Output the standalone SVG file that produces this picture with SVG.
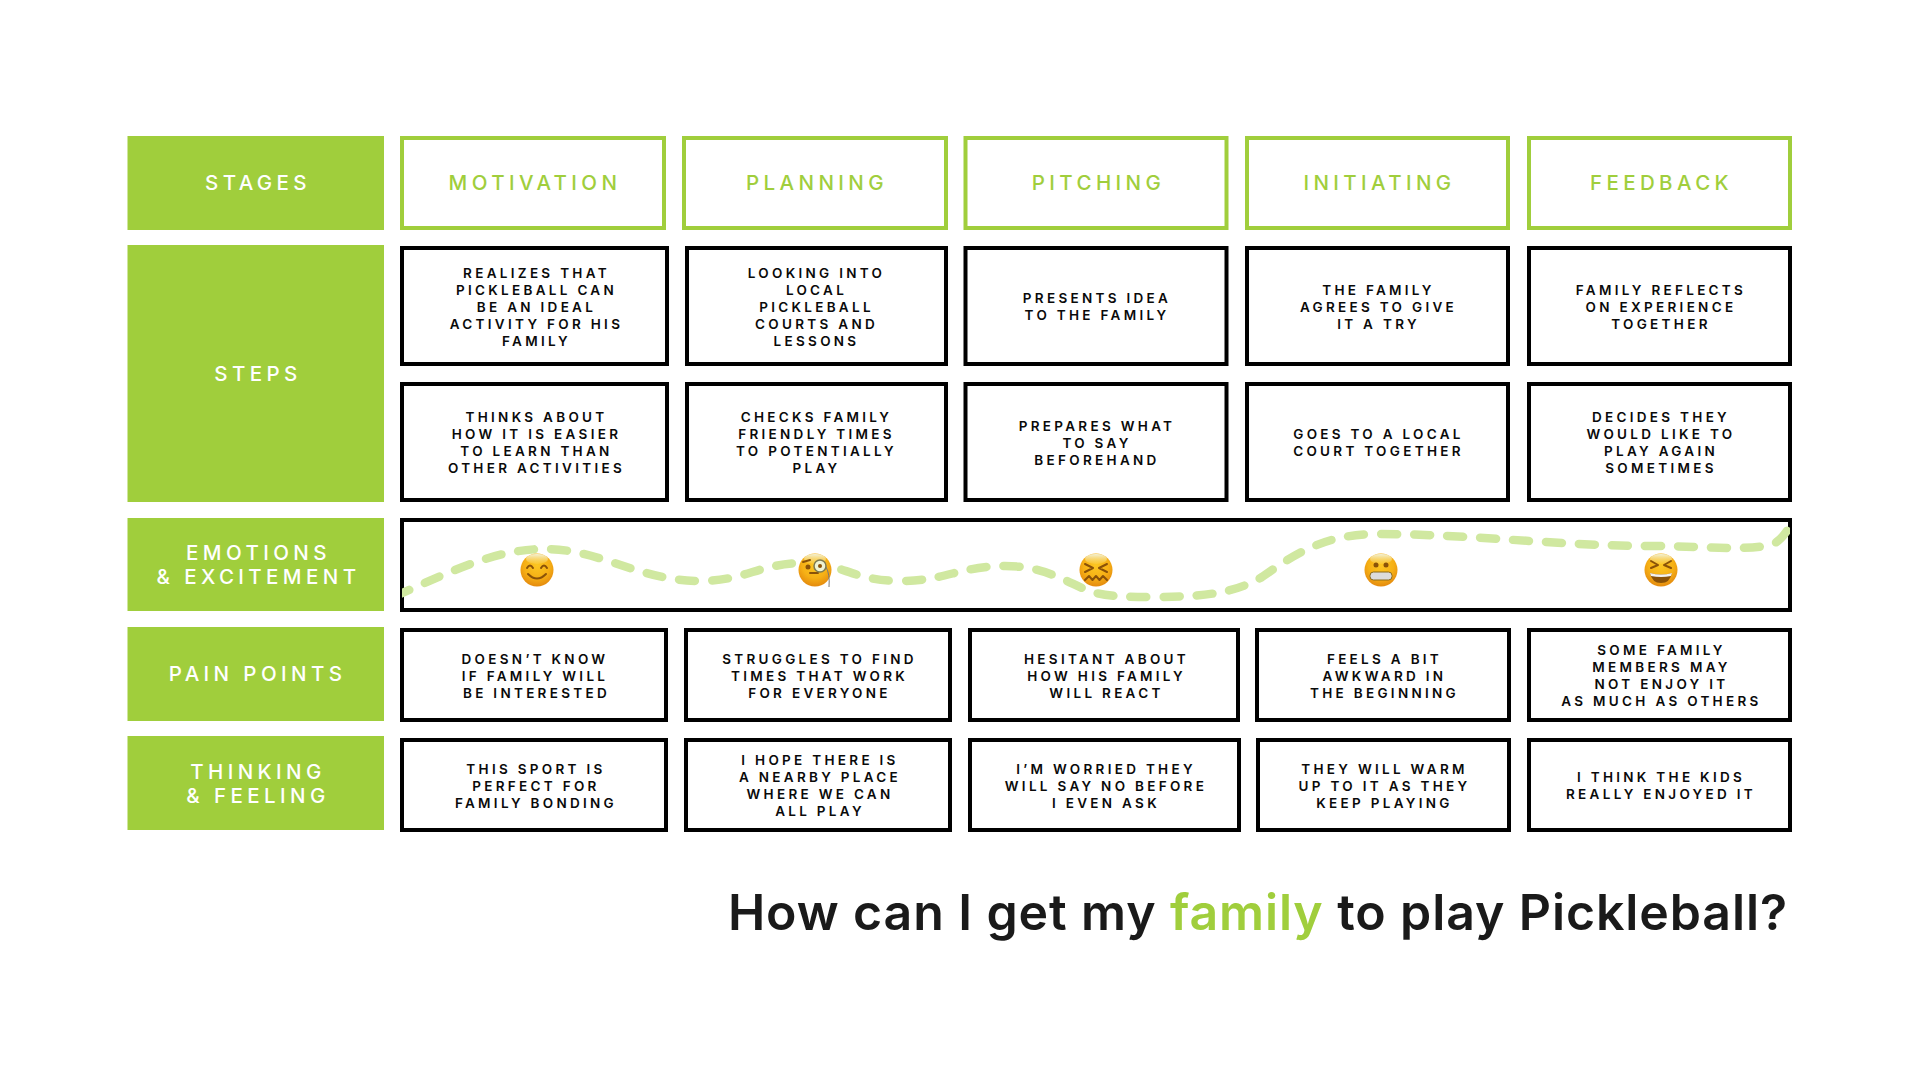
<svg xmlns="http://www.w3.org/2000/svg" width="1920" height="1080" viewBox="0 0 1920 1080">
<style>
text{font-family:Inter,"Liberation Sans",sans-serif;text-anchor:middle}
.lab{fill:#a0ce3c}
.hd{font-size:20.5px;font-weight:500;letter-spacing:4.4px}
.ht{fill:#fff}
.hg{fill:#a0ce3c}
.box{fill:#fff;stroke:#000;stroke-width:4}
.gbox{fill:#fff;stroke:#a0ce3c;stroke-width:4}
.t{font-size:13.5px;font-weight:600;letter-spacing:3.3px;fill:#0a0a0a}
.title{font-size:50px;font-weight:600;fill:#1a1a1a;text-anchor:end;letter-spacing:.9px}
.curve{fill:none;stroke:#d0e8a0;stroke-width:8.5;stroke-linecap:round;stroke-dasharray:16 17}
.fd{fill:#8a5208}
.fl{fill:none;stroke:#8a5208;stroke-width:2;stroke-linecap:round;stroke-linejoin:round}
</style>
<defs>
<radialGradient id="face" cx=".5" cy=".36" r=".64"><stop offset="0" stop-color="#fcc622"/><stop offset=".6" stop-color="#f6b015"/><stop offset="1" stop-color="#e48a0e"/></radialGradient>
<linearGradient id="shine" x1="0" y1="0" x2="0" y2="1"><stop offset="0" stop-color="#f2f2da"/><stop offset="1" stop-color="#fde27a" stop-opacity=".2"/></linearGradient>
<clipPath id="inner"><rect x="402" y="520" width="1388" height="90"/></clipPath>
<g id="fc"><circle r="16.5" fill="url(#face)"/><ellipse cy="-11" rx="11" ry="5" fill="url(#shine)"/></g>
</defs>

<g id="stages-label"><rect x="127.500" y="136" width="256.500" height="94" class="lab"/><text x="258" y="190" class="hd ht">STAGES</text></g>
<g id="stage-motivation"><rect x="402" y="138" width="262" height="90" class="gbox"/><text x="535" y="190" class="hd hg">MOTIVATION</text></g>
<g id="stage-planning"><rect x="684" y="138" width="262" height="90" class="gbox"/><text x="817" y="190" class="hd hg">PLANNING</text></g>
<g id="stage-pitching"><rect x="965.500" y="138" width="261" height="90" class="gbox"/><text x="1098.500" y="190" class="hd hg">PITCHING</text></g>
<g id="stage-initiating"><rect x="1247" y="138" width="261" height="90" class="gbox"/><text x="1379.500" y="190" class="hd hg">INITIATING</text></g>
<g id="stage-feedback"><rect x="1529" y="138" width="261" height="90" class="gbox"/><text x="1661.500" y="190" class="hd hg">FEEDBACK</text></g>

<g id="steps-label"><rect x="127.500" y="245" width="256.500" height="257" class="lab"/><text x="258" y="381" class="hd ht">STEPS</text></g>
<g id="step-1-1"><rect x="402" y="248" width="265" height="116" class="box"/><text class="t"><tspan x="536.500" y="277.500">REALIZES THAT</tspan><tspan x="536.500" y="294.500">PICKLEBALL CAN</tspan><tspan x="536.500" y="311.500">BE AN IDEAL</tspan><tspan x="536.500" y="328.500">ACTIVITY FOR HIS</tspan><tspan x="536.500" y="345.500">FAMILY</tspan></text></g>
<g id="step-1-2"><rect x="687" y="248" width="259" height="116" class="box"/><text class="t"><tspan x="816.500" y="277.500">LOOKING INTO</tspan><tspan x="816.500" y="294.500">LOCAL</tspan><tspan x="816.500" y="311.500">PICKLEBALL</tspan><tspan x="816.500" y="328.500">COURTS AND</tspan><tspan x="816.500" y="345.500">LESSONS</tspan></text></g>
<g id="step-1-3"><rect x="965.500" y="248" width="261" height="116" class="box"/><text class="t"><tspan x="1097" y="303">PRESENTS IDEA</tspan><tspan x="1097" y="320">TO THE FAMILY</tspan></text></g>
<g id="step-1-4"><rect x="1247" y="248" width="261" height="116" class="box"/><text class="t"><tspan x="1378.500" y="294.500">THE FAMILY</tspan><tspan x="1378.500" y="311.500">AGREES TO GIVE</tspan><tspan x="1378.500" y="328.500">IT A TRY</tspan></text></g>
<g id="step-1-5"><rect x="1529" y="248" width="261" height="116" class="box"/><text class="t"><tspan x="1661" y="294.500">FAMILY REFLECTS</tspan><tspan x="1661" y="311.500">ON EXPERIENCE</tspan><tspan x="1661" y="328.500">TOGETHER</tspan></text></g>

<g id="step-2-1"><rect x="402" y="384" width="265" height="116" class="box"/><text class="t"><tspan x="536.500" y="422">THINKS ABOUT</tspan><tspan x="536.500" y="439">HOW IT IS EASIER</tspan><tspan x="536.500" y="456">TO LEARN THAN</tspan><tspan x="536.500" y="473">OTHER ACTIVITIES</tspan></text></g>
<g id="step-2-2"><rect x="687" y="384" width="259" height="116" class="box"/><text class="t"><tspan x="816.500" y="422">CHECKS FAMILY</tspan><tspan x="816.500" y="439">FRIENDLY TIMES</tspan><tspan x="816.500" y="456">TO POTENTIALLY</tspan><tspan x="816.500" y="473">PLAY</tspan></text></g>
<g id="step-2-3"><rect x="965.500" y="384" width="261" height="116" class="box"/><text class="t"><tspan x="1097" y="431">PREPARES WHAT</tspan><tspan x="1097" y="448">TO SAY</tspan><tspan x="1097" y="465">BEFOREHAND</tspan></text></g>
<g id="step-2-4"><rect x="1247" y="384" width="261" height="116" class="box"/><text class="t"><tspan x="1378.500" y="439">GOES TO A LOCAL</tspan><tspan x="1378.500" y="456">COURT TOGETHER</tspan></text></g>
<g id="step-2-5"><rect x="1529" y="384" width="261" height="116" class="box"/><text class="t"><tspan x="1661" y="422">DECIDES THEY</tspan><tspan x="1661" y="439">WOULD LIKE TO</tspan><tspan x="1661" y="456">PLAY AGAIN</tspan><tspan x="1661" y="473">SOMETIMES</tspan></text></g>

<g id="emotions-label"><rect x="127.500" y="518" width="256.500" height="93" class="lab"/><text class="hd ht"><tspan x="258.500" y="559.500">EMOTIONS</tspan><tspan x="258.500" y="583.500">&amp; EXCITEMENT</tspan></text></g>
<g id="emotions-track"><rect x="402" y="520" width="1388" height="90" class="box"/></g>
<g id="connectors"><path class="curve" clip-path="url(#inner)" stroke-dashoffset="6" d="M400 594C450 572 495 549 545 549C600 549 640 581 700 581C745 581 760 563 805 563C840 563 855 581 900 581C945 581 960 566 1005 566C1040 566 1060 578 1082 588C1098 595 1110 597 1150 597C1205 597 1235 593 1262 577C1290 558 1320 534 1378 534C1470 534 1560 546 1650 546C1700 546 1745 551 1770 545C1778 543 1784 536 1790 526"/></g>

<g id="emoji-smile" transform="translate(537 570)"><use href="#fc"/><path class="fl" d="M-10 -2Q-7 -7 -4 -2M4 -2Q7 -7 10 -2"/><path class="fl" stroke-width="2.500" d="M-9 4Q0 13 9 4"/></g>
<g id="emoji-monocle" transform="translate(815 570)"><use href="#fc"/><path class="fl" d="M-12 -8L-5 -10M-5 3H3"/><circle class="fd" cx="-7" cy="-3" r="2.500"/><circle cx="5" cy="-4" r="6" fill="#eef3d2" stroke="#7d7a50" stroke-width="1.500"/><circle class="fd" cx="5" cy="-4" r="2"/><path d="M11 -3Q15 4 14 17" fill="none" stroke="#777" stroke-width="1"/></g>
<g id="emoji-confounded" transform="translate(1096 570)"><use href="#fc"/><path class="fl" d="M-11 -6L-3 -2L-11 2M11 -6L3 -2L11 2M-11 10L-7 6L-3.500 10L0 6L3.500 10L7 6L11 10"/></g>
<g id="emoji-grimace" transform="translate(1381 570)"><use href="#fc"/><circle class="fd" cx="-5" cy="-5" r="2.500"/><circle class="fd" cx="5" cy="-5" r="2.500"/><rect x="-11" y="2" width="22" height="8" rx="3.500" fill="#dcdcdc" stroke="#8a6a1a" stroke-width="1"/></g>
<g id="emoji-laugh" transform="translate(1661 570)"><use href="#fc"/><path class="fl" d="M-10 -9L-3 -5L-10 -2M10 -9L3 -5L10 -2"/><path d="M-11 3Q0 6 11 3Q9 13 0 13Q-9 13 -11 3Z" fill="#8a5208"/><path d="M-11 3Q0 6 11 3L10 6Q0 8 -10 6Z" fill="#f2f2f2"/></g>

<g id="pain-label"><rect x="127.500" y="627" width="256.500" height="94" class="lab"/><text x="257.500" y="681" class="hd ht">PAIN POINTS</text></g>
<g id="pain-1"><rect x="402" y="630" width="264" height="90" class="box"/><text class="t"><tspan x="535" y="663.500">DOESN’T KNOW</tspan><tspan x="535" y="680.500">IF FAMILY WILL</tspan><tspan x="536.500" y="697.500">BE INTERESTED</tspan></text></g>
<g id="pain-2"><rect x="686" y="630" width="264" height="90" class="box"/><text class="t"><tspan x="819.500" y="663.500">STRUGGLES TO FIND</tspan><tspan x="819.500" y="680.500">TIMES THAT WORK</tspan><tspan x="819.500" y="697.500">FOR EVERYONE</tspan></text></g>
<g id="pain-3"><rect x="970" y="630" width="268" height="90" class="box"/><text class="t"><tspan x="1106.500" y="663.500">HESITANT ABOUT</tspan><tspan x="1106.500" y="680.500">HOW HIS FAMILY</tspan><tspan x="1106.500" y="697.500">WILL REACT</tspan></text></g>
<g id="pain-4"><rect x="1257" y="630" width="252" height="90" class="box"/><text class="t"><tspan x="1384.500" y="663.500">FEELS A BIT</tspan><tspan x="1384.500" y="680.500">AWKWARD IN</tspan><tspan x="1384.500" y="697.500">THE BEGINNING</tspan></text></g>
<g id="pain-5"><rect x="1529" y="630" width="261" height="90" class="box"/><text class="t"><tspan x="1661.500" y="655">SOME FAMILY</tspan><tspan x="1661.500" y="672">MEMBERS MAY</tspan><tspan x="1661.500" y="689">NOT ENJOY IT</tspan><tspan x="1661.500" y="706">AS MUCH AS OTHERS</tspan></text></g>

<g id="thinking-label"><rect x="127.500" y="736" width="256.500" height="94" class="lab"/><text class="hd ht"><tspan x="258" y="778.500">THINKING</tspan><tspan x="258" y="802.500">&amp; FEELING</tspan></text></g>
<g id="think-1"><rect x="402" y="740" width="264" height="90" class="box"/><text class="t"><tspan x="536" y="774">THIS SPORT IS</tspan><tspan x="536" y="791">PERFECT FOR</tspan><tspan x="536" y="808">FAMILY BONDING</tspan></text></g>
<g id="think-2"><rect x="686" y="740" width="264" height="90" class="box"/><text class="t"><tspan x="820" y="765">I HOPE THERE IS</tspan><tspan x="820" y="782">A NEARBY PLACE</tspan><tspan x="820" y="799">WHERE WE CAN</tspan><tspan x="820" y="816">ALL PLAY</tspan></text></g>
<g id="think-3"><rect x="970" y="740" width="269" height="90" class="box"/><text class="t"><tspan x="1106" y="774">I’M WORRIED THEY</tspan><tspan x="1106" y="791">WILL SAY NO BEFORE</tspan><tspan x="1106" y="808">I EVEN ASK</tspan></text></g>
<g id="think-4"><rect x="1258" y="740" width="251" height="90" class="box"/><text class="t"><tspan x="1384.500" y="774">THEY WILL WARM</tspan><tspan x="1384.500" y="791">UP TO IT AS THEY</tspan><tspan x="1384.500" y="808">KEEP PLAYING</tspan></text></g>
<g id="think-5"><rect x="1529" y="740" width="261" height="90" class="box"/><text class="t"><tspan x="1661" y="782">I THINK THE KIDS</tspan><tspan x="1661" y="799">REALLY ENJOYED IT</tspan></text></g>

<g id="title"><text x="1788" y="930" class="title">How can I get my <tspan fill="#a0ce3c">family</tspan> to play Pickleball?</text></g>
</svg>
